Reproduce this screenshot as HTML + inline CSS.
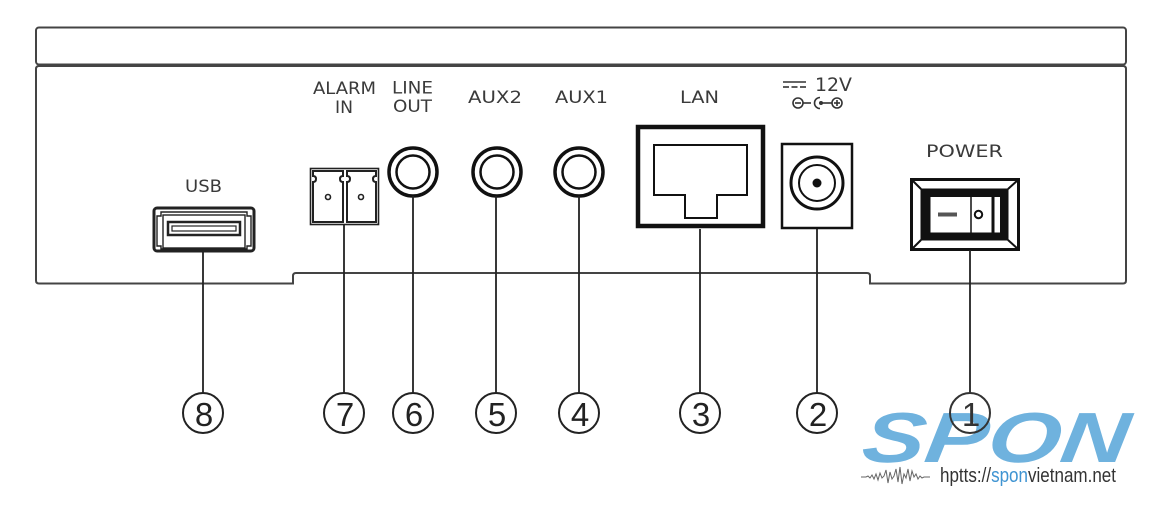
<!DOCTYPE html>
<html><head><meta charset="utf-8"><style>
html,body{margin:0;padding:0;background:#fff;}
svg{display:block;}
</style></head><body>
<svg width="1153" height="506" viewBox="0 0 1153 506" xmlns="http://www.w3.org/2000/svg">
<rect width="1153" height="506" fill="#fff"/>
<!-- device outline -->
<rect x="36" y="27.5" width="1090" height="37" rx="3" fill="none" stroke="#444" stroke-width="2"/>
<path d="M39,66 H1123 Q1126,66 1126,69 V280.5 Q1126,283.5 1123,283.5 H870 V276 Q870,273 867,273 H296 Q293,273 293,276 V283.5 H39 Q36,283.5 36,280.5 V69 Q36,66 39,66 Z" fill="none" stroke="#444" stroke-width="2"/>

<!-- labels -->
<g font-family="DejaVu Sans, Liberation Sans, sans-serif" font-size="17" fill="#3a3a3a">
<text x="185" y="192" textLength="37" lengthAdjust="spacingAndGlyphs">USB</text>
<text x="313" y="94" textLength="63" lengthAdjust="spacingAndGlyphs">ALARM</text>
<text x="335" y="113" textLength="18" lengthAdjust="spacingAndGlyphs">IN</text>
<text x="392" y="93.5" textLength="41" lengthAdjust="spacingAndGlyphs">LINE</text>
<text x="393" y="112" textLength="39" lengthAdjust="spacingAndGlyphs">OUT</text>
<text x="468" y="103" textLength="54" lengthAdjust="spacingAndGlyphs">AUX2</text>
<text x="555" y="103" textLength="53" lengthAdjust="spacingAndGlyphs">AUX1</text>
<text x="680" y="103" textLength="39" lengthAdjust="spacingAndGlyphs">LAN</text>
<text x="926" y="157" textLength="77" lengthAdjust="spacingAndGlyphs">POWER</text>
<text x="815" y="91" font-size="19" textLength="37" lengthAdjust="spacingAndGlyphs">12V</text>
</g>

<!-- DC symbol -->
<g stroke="#333" stroke-width="1.6" fill="none">
<line x1="783" y1="82" x2="806" y2="82"/>
<line x1="783" y1="87" x2="789" y2="87"/><line x1="791.5" y1="87" x2="797.5" y2="87"/><line x1="800" y1="87" x2="806" y2="87"/>
<circle cx="798" cy="103" r="5"/><line x1="795" y1="103" x2="801" y2="103"/>
<line x1="803" y1="103" x2="811" y2="103"/>
<path d="M820,97.5 A5.5,5.5 0 0,0 820,108.5"/>
<line x1="822" y1="103" x2="832" y2="103"/>
<circle cx="837" cy="103" r="5"/><line x1="834" y1="103" x2="840" y2="103"/><line x1="837" y1="100" x2="837" y2="106"/>
</g>
<circle cx="821" cy="103" r="2" fill="#333"/>

<!-- USB -->
<g fill="none" stroke="#222">
<rect x="154" y="208" width="100" height="43" rx="3" stroke-width="3"/>
<path d="M161,212 H247 V216 H251 V246 H247 V249 H161 V246 H157 V216 H161 Z" stroke-width="1.4"/>
<rect x="163" y="215" width="82" height="33" stroke-width="1.4"/>
<rect x="168" y="222" width="72" height="13" stroke-width="2.5"/>
<rect x="172" y="226" width="64" height="5" stroke-width="1.2"/>
</g>

<!-- Alarm terminal -->
<g fill="none" stroke="#222">
<rect x="310.5" y="168.5" width="68" height="56" stroke-width="1.6"/>
<path d="M313,171 H343 V176 q-3,0 -3,3 q0,3 3,3 V222 H313 V182 q3,0 3,-3 q0,-3 -3,-3 Z" stroke-width="2"/>
<path d="M347,171 H376 V176 q-3,0 -3,3 q0,3 3,3 V222 H347 V182 q3,0 3,-3 q0,-3 -3,-3 Z" stroke-width="2"/>
<circle cx="328" cy="197" r="2.5" stroke-width="1.6"/>
<circle cx="361" cy="197" r="2.5" stroke-width="1.6"/>
</g>

<!-- jacks -->
<g fill="none" stroke="#111">
<circle cx="413" cy="172" r="24" stroke-width="3.5"/><circle cx="413" cy="172" r="16.5" stroke-width="2.5"/>
<circle cx="497" cy="172" r="24" stroke-width="3.5"/><circle cx="497" cy="172" r="16.5" stroke-width="2.5"/>
<circle cx="579" cy="172" r="24" stroke-width="3.5"/><circle cx="579" cy="172" r="16.5" stroke-width="2.5"/>
</g>

<!-- LAN -->
<g fill="none" stroke="#111">
<rect x="638" y="127" width="125" height="99" stroke-width="4.5"/>
<path d="M654,145 H747 V195 H717 V218 H685 V195 H654 Z" stroke-width="2"/>
</g>

<!-- DC jack -->
<g fill="none" stroke="#111">
<rect x="782" y="144" width="70" height="84" stroke-width="2.5"/>
<circle cx="817" cy="183" r="26" stroke-width="3"/>
<circle cx="817" cy="183" r="18" stroke-width="2"/>
</g>
<circle cx="817" cy="183" r="4.5" fill="#111"/>

<!-- Power switch -->
<g stroke="#111">
<rect x="911.5" y="179.5" width="107" height="70" fill="#fff" stroke-width="3"/>
<line x1="911.5" y1="179.5" x2="921" y2="189" stroke-width="2"/>
<line x1="1018.5" y1="179.5" x2="1008" y2="189" stroke-width="2"/>
<line x1="911.5" y1="249.5" x2="921" y2="240" stroke-width="2"/>
<line x1="1018.5" y1="249.5" x2="1008" y2="240" stroke-width="2"/>
<rect x="921" y="189" width="87" height="51" fill="#111" stroke-width="1"/>
<rect x="930" y="196.5" width="62" height="36.5" fill="#fff" stroke-width="1"/>
<rect x="994" y="196.5" width="6.5" height="36.5" fill="#fff" stroke-width="1"/>
<line x1="971" y1="196.5" x2="971" y2="233" stroke-width="1.5"/>
<rect x="938" y="212.5" width="19" height="4" fill="#555" stroke="none"/>
<circle cx="978.5" cy="214.5" r="3.7" fill="none" stroke-width="2"/>
</g>

<!-- leader lines -->
<g stroke="#222" stroke-width="1.8">
<line x1="203" y1="251" x2="203" y2="393"/>
<line x1="344" y1="225" x2="344" y2="393"/>
<line x1="413" y1="196" x2="413" y2="393"/>
<line x1="496" y1="196" x2="496" y2="393"/>
<line x1="579" y1="196" x2="579" y2="393"/>
<line x1="700" y1="229" x2="700" y2="393"/>
<line x1="817" y1="229" x2="817" y2="393"/>
<line x1="970" y1="250" x2="970" y2="393"/>
</g>

<!-- logo -->
<g transform="translate(0,462) skewX(-8) translate(0,-462)">
<text x="860" y="462" font-family="Liberation Sans, sans-serif" font-weight="bold" font-style="italic" font-size="71" fill="#6fb2de" textLength="266" lengthAdjust="spacingAndGlyphs">SPON</text>
</g>
<polyline points="861,477 866,477 868,476 870,478 872,475 874,479 876,474 878,480 880,473 882,478 884,476 886,470 888,483 890,472 892,479 894,476 896,469 898,482 900,467 902,484 904,474 906,478 908,469 910,481 912,471 914,477 916,474 918,479 920,476 922,478 924,477 930,477" fill="none" stroke="#666" stroke-width="1"/>
<text x="940" y="482" font-family="Liberation Sans, sans-serif" font-size="20" fill="#333" textLength="176" lengthAdjust="spacingAndGlyphs">hptts://<tspan fill="#3f94d2">spon</tspan>vietnam.net</text>

<!-- numbered circles -->
<g fill="none" stroke="#222" stroke-width="2">
<circle cx="203" cy="413" r="20"/>
<circle cx="344" cy="413" r="20"/>
<circle cx="413" cy="413" r="20"/>
<circle cx="496" cy="413" r="20"/>
<circle cx="579" cy="413" r="20"/>
<circle cx="700" cy="413" r="20"/>
<circle cx="817" cy="413" r="20"/>
<circle cx="970" cy="413" r="20" stroke="#333"/>
</g>
<g font-family="Liberation Sans, sans-serif" font-size="33" fill="#222" text-anchor="middle">
<text x="204" y="426">8</text>
<text x="345" y="426">7</text>
<text x="414" y="426">6</text>
<text x="497" y="426">5</text>
<text x="580" y="426">4</text>
<text x="701" y="426">3</text>
<text x="818" y="426">2</text>
<text x="971" y="426" fill="#333">1</text>
</g>
</svg>
</body></html>
